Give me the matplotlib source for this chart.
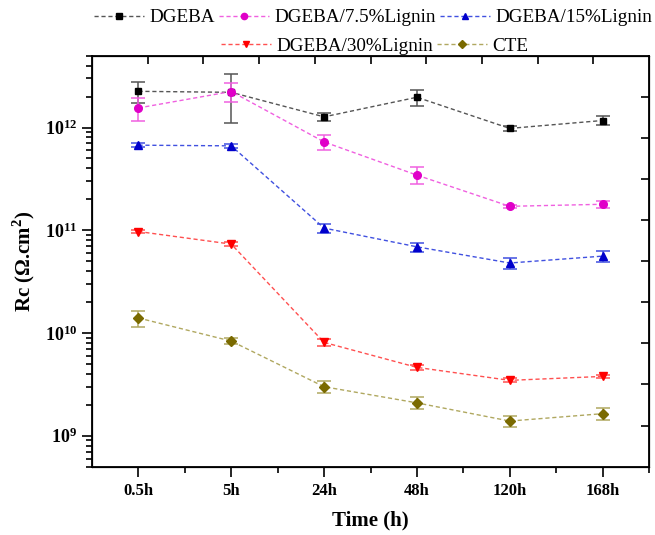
import numpy as np
import matplotlib
matplotlib.use('Agg')
import matplotlib.pyplot as plt
from matplotlib.lines import Line2D

plt.rcParams['font.family'] = ['Liberation Serif', 'DejaVu Serif']
plt.rcParams['mathtext.fontset'] = 'custom'
plt.rcParams['mathtext.rm'] = 'Liberation Serif'
plt.rcParams['mathtext.bf'] = 'Liberation Serif:bold'

times = ['0.5h', '5h', '24h', '48h', '120h', '168h']

dgeba = [2.25e12, 2.2e12, 1.27e12, 1.97e12, 0.98e12, 1.17e12]
dgeba_err = [0.5e12, 1.1e12, 0.12e12, 0.35e12, 0.05e12, 0.12e12]
lig75 = [1.55e12, 2.24e12, 7.24e11, 3.44e11, 1.71e11, 1.79e11]
lig75_err = [0.4e12, 0.45e12, 1.2e11, 0.65e11, 0.05e11, 0.13e11]
lig15 = [6.73e11, 6.63e11, 1.05e11, 6.9e10, 4.8e10, 5.6e10]
lig15_err = [0.3e11, 0.35e11, 0.1e11, 0.7e10, 0.6e10, 0.65e10]
lig30 = [9.72e10, 7.33e10, 8.1e9, 4.63e9, 3.46e9, 3.78e9]
lig30_err = [0.3e10, 0.3e10, 0.6e9, 0.25e9, 0.15e9, 0.15e9]
cte = [1.4e10, 8.34e9, 3.0e9, 2.09e9, 1.39e9, 1.64e9]
cte_err = [0.25e10, 0.6e9, 0.4e9, 0.27e9, 0.17e9, 0.21e9]

labels = ['DGEBA', 'DGEBA/7.5%Lignin', 'DGEBA/15%Lignin', 'DGEBA/30%Lignin', 'CTE']
series = [dgeba, lig75, lig15, lig30, cte]
errors = [dgeba_err, lig75_err, lig15_err, lig30_err, cte_err]
colors = ['#000000', '#E000C8', '#0000CC', '#FF0000', '#7A6A00']
line_colors = ['#555555', '#F060E0', '#4050E0', '#FF5050', '#B0A860']
markers = ['s', 'o', '^', 'v', 'D']
msizes = [5, 5.5, 6, 6, 5]

fig = plt.figure(figsize=(6.55, 5.35), dpi=100)
ax = fig.add_axes([0.1405, 0.1277, 0.8503, 0.7682])

x = np.arange(1, len(times) + 1)
handles = []
for vals, err, c, lc, m, ms, lab in zip(series, errors, colors, line_colors, markers, msizes, labels):
    ax.errorbar(x, vals, yerr=err, fmt='none', ecolor=lc, elinewidth=1.1,
                capsize=5, capthick=1.1, zorder=2)
    ax.plot(x, vals, ls=(0, (3, 2)), lw=1, color=lc, zorder=3)
    ax.plot(x, vals, ls='none', marker=m, ms=ms, color=c, zorder=4)
    handles.append(Line2D([], [], ls=(0, (3, 2)), lw=1, color=lc, marker=m,
                          ms=ms - 1, mfc=c, mec=c, label=lab))

ax.set_yscale('log')
ax.set_ylim(5e8, 5e12)
ax.set_xlim(0.5, 6.5)
ax.set_xticks(x)
ax.set_xticks(x + 0.5, minor=True)
ax.set_xticklabels(times, fontweight='bold', fontsize=12)
ax.set_yticks([1e9, 1e10, 1e11, 1e12])
ax.set_yticklabels([r'$\mathbf{10^{9}}$', r'$\mathbf{10^{10}}$', r'$\mathbf{10^{11}}$', r'$\mathbf{10^{12}}$'], fontsize=13)
ax.tick_params(axis='both', which='major', direction='out', length=7, width=1.2, top=False, right=False)
ax.tick_params(axis='both', which='minor', direction='out', length=4, width=1.2, top=False, right=False)
ax.tick_params(axis='x', pad=5)
for sp in ax.spines.values():
    sp.set_linewidth(1.3)

# top and right axes with plain divisions
axr = ax.twinx()
axr.set_ylim(0, 1)
axr.set_yticks(np.arange(0.1, 1.0, 0.1))
axr.tick_params(axis='y', direction='in', length=6, width=1.2, labelright=False)
axt = ax.twiny()
axt.set_xlim(0, 1)
axt.set_xticks(np.arange(0.1, 1.0, 0.1))
axt.tick_params(axis='x', direction='in', length=6, width=1.2, labeltop=False)

ax.set_xlabel('Time (h)', fontweight='bold', fontsize=15, labelpad=8)
ax.set_ylabel(r'Rc ($\mathbf{\Omega}$.cm$^{\mathbf{2}}$)', fontweight='bold', fontsize=15, labelpad=6)

leg1 = fig.legend(handles=handles[:3], loc='center', bbox_to_anchor=(0.57, 0.967), ncol=3,
                  frameon=False, fontsize=13.8, handlelength=2.6, handletextpad=0.3, columnspacing=0.2)
leg2 = fig.legend(handles=handles[3:], loc='center', bbox_to_anchor=(0.572, 0.914), ncol=2,
                  frameon=False, fontsize=13.8, handlelength=2.6, handletextpad=0.3, columnspacing=0.2)

fig.savefig('out.png', dpi=100)
